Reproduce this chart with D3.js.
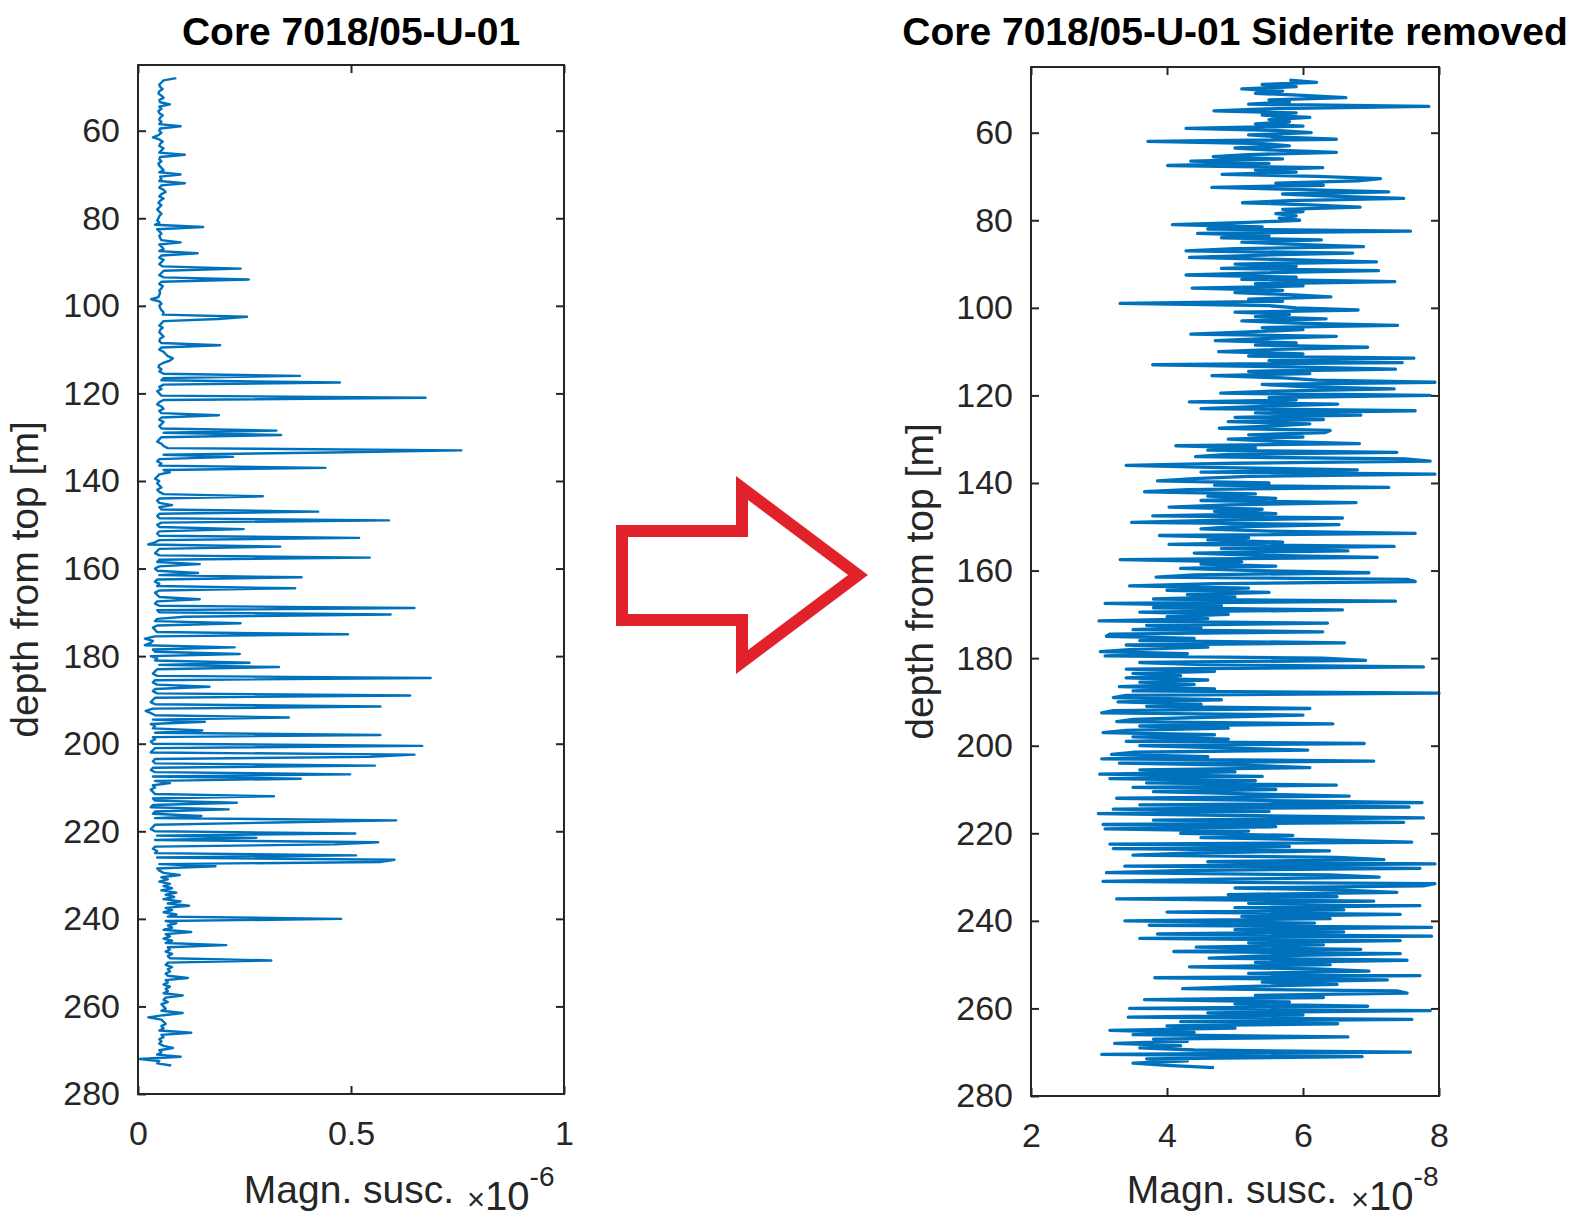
<!DOCTYPE html>
<html><head><meta charset="utf-8">
<script src="https://cdn.jsdelivr.net/npm/d3@7"></script>
<style>
body{margin:0;background:#fff;}
svg{display:block;font-family:"Liberation Sans",Arial,Helvetica,sans-serif;}
</style></head><body>
<svg id="c" width="1585" height="1218"></svg>
<script>
// depth index of the samples (m): first sample and spacing
const DEPTH_START = 48, DEPTH_STEP = 0.5;
const depthTicks = [60, 80, 100, 120, 140, 160, 180, 200, 220, 240, 260, 280];
const rawTicks = [0, 0.5, 1];
const removedTicks = [2, 4, 6, 8];
const titles = ["Core 7018/05-U-01", "Core 7018/05-U-01 Siderite removed"];
const yLabel = "depth from top [m]";
const xLabel = "Magn. susc.";
const exponents = ["-6", "-8"];

// magnetic susceptibility, raw core (x 1e-6), one value every 0.5 m from 48 m
const suscRaw = [
 .09,.06,.055,.05,.052,.058,.05,.048,.055,.06,.05,.052,.075,.05,.055,.048,.05,.058,.052,.05,
 .055,.05,.10,.052,.05,.055,.048,.035,.05,.058,.052,.05,.06,.055,.05,.11,.052,.05,.055,.048,
 .05,.055,.06,.05,.10,.052,.055,.05,.11,.055,.05,.06,.065,.055,.05,.06,.052,.048,.055,.05,
 .045,.05,.055,.05,.048,.045,.05,.04,.153,.045,.05,.055,.05,.052,.055,.10,.05,.055,.06,.05,
 .14,.055,.05,.06,.055,.05,.058,.241,.06,.055,.05,.06,.26,.055,.05,.058,.055,.05,.052,.05,
 .048,.031,.05,.055,.05,.052,.055,.06,.058,.256,.188,.06,.055,.05,.058,.052,.05,.055,.06,.052,
 .05,.055,.193,.055,.05,.06,.065,.07,.082,.075,.06,.05,.048,.055,.05,.06,.38,.06,.055,.474,
 .06,.05,.055,.045,.05,.055,.675,.06,.05,.045,.055,.06,.05,.055,.19,.055,.05,.06,.055,.05,
 .055,.325,.06,.336,.055,.05,.045,.055,.06,.07,.759,.45,.06,.223,.05,.045,.055,.05,.44,.06,
 .075,.05,.045,.04,.05,.045,.05,.055,.045,.05,.06,.293,.05,.045,.05,.08,.05,.055,.423,.05,
 .045,.05,.589,.055,.045,.05,.248,.05,.045,.05,.519,.05,.04,.024,.334,.05,.045,.04,.05,.544,
 .05,.045,.145,.05,.04,.045,.141,.05,.384,.045,.04,.05,.045,.369,.05,.04,.045,.05,.145,.045,
 .04,.05,.649,.045,.05,.593,.11,.045,.04,.241,.045,.035,.04,.045,.493,.04,.016,.035,.03,.016,
 .227,.035,.04,.239,.03,.045,.04,.262,.05,.331,.045,.04,.035,.045,.687,.04,.035,.045,.168,.04,
 .035,.045,.639,.04,.035,.03,.04,.569,.035,.018,.03,.04,.354,.035,.157,.03,.04,.035,.151,.04,
 .569,.035,.04,.03,.035,.667,.04,.035,.03,.649,.544,.04,.035,.04,.556,.035,.03,.04,.498,.035,
 .382,.04,.075,.035,.04,.03,.035,.04,.319,.035,.04,.232,.035,.03,.213,.04,.035,.149,.04,.606,
 .32,.04,.035,.03,.04,.51,.045,.278,.04,.564,.462,.04,.035,.045,.04,.512,.045,.602,.571,.05,
 .182,.045,.05,.06,.098,.055,.07,.05,.075,.06,.08,.055,.09,.065,.085,.06,.1,.07,.12,.065,
 .08,.06,.09,.07,.477,.065,.09,.07,.08,.06,.125,.065,.075,.06,.08,.065,.207,.07,.075,.065,
 .08,.07,.075,.313,.07,.065,.08,.07,.075,.065,.07,.117,.065,.07,.06,.075,.065,.07,.06,.105,
 .065,.06,.07,.055,.06,.065,.055,.105,.06,.024,.055,.06,.065,.055,.06,.05,.125,.055,.06,.05,
 .055,.05,.06,.082,.05,.055,.045,.10,.004,.05,.045,.078
];

// magnetic susceptibility, siderite removed (x 1e-8), one value every 0.5 m from 48 m
const suscRemoved = [
 5.8,6.2,5.4,5.9,5.1,5.7,5.3,6.0,6.63,5.5,5.8,5.2,7.85,5.6,4.69,5.9,5.4,6.1,5.5,5.8,
 5.3,6.0,4.28,5.6,6.12,5.2,5.7,6.49,3.72,5.4,5.8,5.0,5.6,6.49,5.2,4.68,5.7,4.35,5.5,4.01,
 6.29,5.3,5.9,4.81,6.2,7.14,6.8,5.6,6.3,4.66,6.0,7.26,5.7,6.4,7.48,5.8,5.11,6.1,6.84,5.7,
 6.0,5.6,5.9,5.65,5.95,5.2,4.08,5.4,4.6,7.58,4.45,5.5,4.8,6.27,5.1,5.9,6.89,5.0,4.28,6.73,
 5.3,4.33,5.8,7.08,5.0,5.9,4.8,7.11,5.4,4.28,5.9,5.1,7.35,5.3,6.0,4.37,5.7,5.0,5.8,6.41,
 5.2,5.7,3.31,5.5,5.9,6.81,5.0,5.8,5.3,6.34,5.1,5.9,7.39,5.4,6.0,5.2,4.35,6.49,5.5,4.71,
 5.9,5.3,6.95,5.6,4.76,6.0,5.2,7.63,5.5,7.46,3.79,5.8,7.36,5.2,6.1,4.66,5.7,6.2,7.94,5.4,
 6.0,7.34,5.6,4.79,7.87,5.5,5.9,4.33,6.51,5.4,4.5,7.65,5.3,6.85,5.0,6.3,4.9,6.1,5.5,4.77,
 6.4,6.32,5.2,6.0,4.9,5.6,6.83,4.13,5.3,4.6,7.38,4.9,4.42,7.5,7.87,5.0,3.40,4.8,6.8,4.5,
 7.94,5.2,4.4,3.86,5.5,4.7,7.26,4.3,3.67,5.3,4.6,5.6,4.5,6.78,4.9,4.03,5.4,4.7,5.6,3.79,
 6.58,4.8,3.48,6.53,5.0,4.5,5.5,7.65,3.89,5.2,4.6,5.7,4.03,7.34,4.8,6.66,4.4,5.3,7.09,3.31,
 5.1,4.5,5.6,4.2,5.3,6.97,4.4,3.84,7.53,7.65,4.7,3.45,5.2,4.0,5.5,4.3,5.0,3.8,7.36,3.09,
 4.8,3.8,6.58,3.6,4.9,4.0,4.6,3.0,6.36,3.7,4.5,3.5,6.29,3.16,3.11,4.4,3.6,6.61,3.4,4.6,
 3.5,3.02,4.3,3.09,6.29,6.92,3.6,4.5,7.77,3.4,4.7,3.5,4.2,3.4,4.6,3.6,4.4,3.3,4.7,3.5,
 8.0,3.4,3.21,4.8,3.28,4.5,3.7,6.1,3.21,3.04,6.0,4.6,3.5,3.26,6.44,3.6,4.9,3.4,3.06,4.7,
 3.5,4.9,3.4,6.9,3.6,4.8,6.07,3.5,3.185,4.6,3.04,7.04,3.3,5.2,6.1,3.6,5.0,3.01,5.4,3.16,
 5.3,3.7,6.49,3.5,5.6,3.8,5.2,6.68,3.26,5.4,7.75,3.6,7.56,3.21,5.5,2.99,5.3,7.77,3.8,7.48,
 3.06,5.6,3.09,5.2,4.2,5.85,4.5,6.3,7.6,3.16,5.8,3.21,6.39,4.4,3.5,6.5,7.19,4.6,7.94,3.38,
 7.72,4.3,3.11,6.4,7.12,4.8,3.06,7.94,7.77,5.0,6.6,7.38,4.9,6.5,3.26,7.04,5.2,7.72,5.0,6.6,
 4.0,7.43,5.1,6.4,3.38,6.17,3.74,7.89,5.0,6.6,3.86,7.89,3.6,7.43,5.2,6.3,4.43,6.85,4.1,7.43,
 5.4,4.62,7.53,5.3,6.4,4.33,6.2,6.97,5.2,7.72,3.82,7.24,5.4,6.5,5.1,4.23,7.38,7.53,5.3,6.3,
 3.67,5.8,5.0,6.95,3.45,7.87,4.6,6.0,3.43,7.6,4.2,6.51,4.0,5.0,3.16,4.4,3.5,6.66,3.8,4.3,
 3.23,4.2,3.6,4.4,7.58,3.04,6.87,3.7,4.3,3.5,4.0,4.69
];

const AX = "#262626", LINE = "#0072BD";
const svg = d3.select("#c");

function panel(cfg) {
  const x = d3.scaleLinear().domain(cfg.xDomain).range([cfg.x0, cfg.x1]);
  const y = d3.scaleLinear().domain([45, 280]).range([cfg.y0, cfg.y1]);
  const g = svg.append("g");
  const fmt = d3.format("~g");

  const line = d3.line().x(d => x(d)).y((d, i) => y(DEPTH_START + i * DEPTH_STEP));
  g.append("path").datum(cfg.values).attr("d", line)
    .attr("fill", "none").attr("stroke", LINE).attr("stroke-width", cfg.lineWidth)
    .attr("stroke-linejoin", "round");

  const style = sel => {
    sel.select(".domain").remove();
    sel.selectAll(".tick line").attr("stroke", AX).attr("stroke-width", 2);
    sel.selectAll("text").attr("fill", AX).attr("font-size", 34)
       .attr("font-family", '"Liberation Sans",Arial,sans-serif');
  };
  g.append("g").attr("transform", `translate(${cfg.x0},0)`)
    .call(d3.axisLeft(y).tickValues(depthTicks).tickSizeInner(-8).tickSizeOuter(0).tickPadding(18))
    .call(style);
  g.append("g").attr("transform", `translate(${cfg.x1},0)`)
    .call(d3.axisRight(y).tickValues(depthTicks.filter(d => d < 280)).tickSizeInner(-8).tickSizeOuter(0).tickFormat(""))
    .call(style);
  g.append("g").attr("transform", `translate(0,${cfg.y1})`)
    .call(d3.axisBottom(x).tickValues(cfg.xTicks).tickSizeInner(-8).tickSizeOuter(0).tickPadding(27).tickFormat(fmt))
    .call(style);
  g.append("g").attr("transform", `translate(0,${cfg.y0})`)
    .call(d3.axisTop(x).tickValues(cfg.xTicks).tickSizeInner(-8).tickSizeOuter(0).tickFormat(""))
    .call(style);
  g.append("rect").attr("x", cfg.x0).attr("y", cfg.y0)
    .attr("width", cfg.x1 - cfg.x0).attr("height", cfg.y1 - cfg.y0)
    .attr("fill", "none").attr("stroke", AX).attr("stroke-width", 2);

  svg.append("text").attr("x", (cfg.x0 + cfg.x1) / 2).attr("y", 45)
    .attr("text-anchor", "middle").attr("font-weight", "bold").attr("font-size", 39)
    .attr("fill", "#000").text(cfg.title);
  svg.append("text").attr("transform", `translate(${cfg.yLabelX},${(cfg.y0 + cfg.y1) / 2}) rotate(-90)`)
    .attr("text-anchor", "middle").attr("font-size", 39).attr("fill", AX).text(yLabel);
  svg.append("text").attr("x", cfg.xLabelX).attr("y", 1203)
    .attr("text-anchor", "middle").attr("font-size", 39).attr("fill", AX).text(xLabel);
  const ex = svg.append("text").attr("x", cfg.expX).attr("y", 1210).attr("fill", AX);
  ex.append("tspan").attr("font-size", 31).text("\u00d7");
  ex.append("tspan").attr("font-size", 40).text("10");
  ex.append("tspan").attr("font-size", 28).attr("dy", -24).text(cfg.exponent);
}

panel({x0: 138, x1: 564, y0: 65, y1: 1094, xDomain: [0, 1], xTicks: rawTicks, lineWidth: 2.4,
       values: suscRaw, title: titles[0], yLabelX: 38, xLabelX: 349, expX: 467, exponent: exponents[0]});
panel({x0: 1031, x1: 1439, y0: 67, y1: 1096, xDomain: [2, 8], xTicks: removedTicks, lineWidth: 3.3,
       values: suscRemoved, title: titles[1], yLabelX: 933, xLabelX: 1232, expX: 1351, exponent: exponents[1]});

// red outlined arrow between the panels
const arrow = [[622,531],[742,531],[742,488],[858,575],[742,662],[742,620],[622,620]];
svg.append("path").attr("d", d3.line()(arrow) + "Z")
  .attr("fill", "none").attr("stroke", "#e1222b").attr("stroke-width", 12)
  .attr("stroke-linejoin", "miter");
</script>
</body></html>
